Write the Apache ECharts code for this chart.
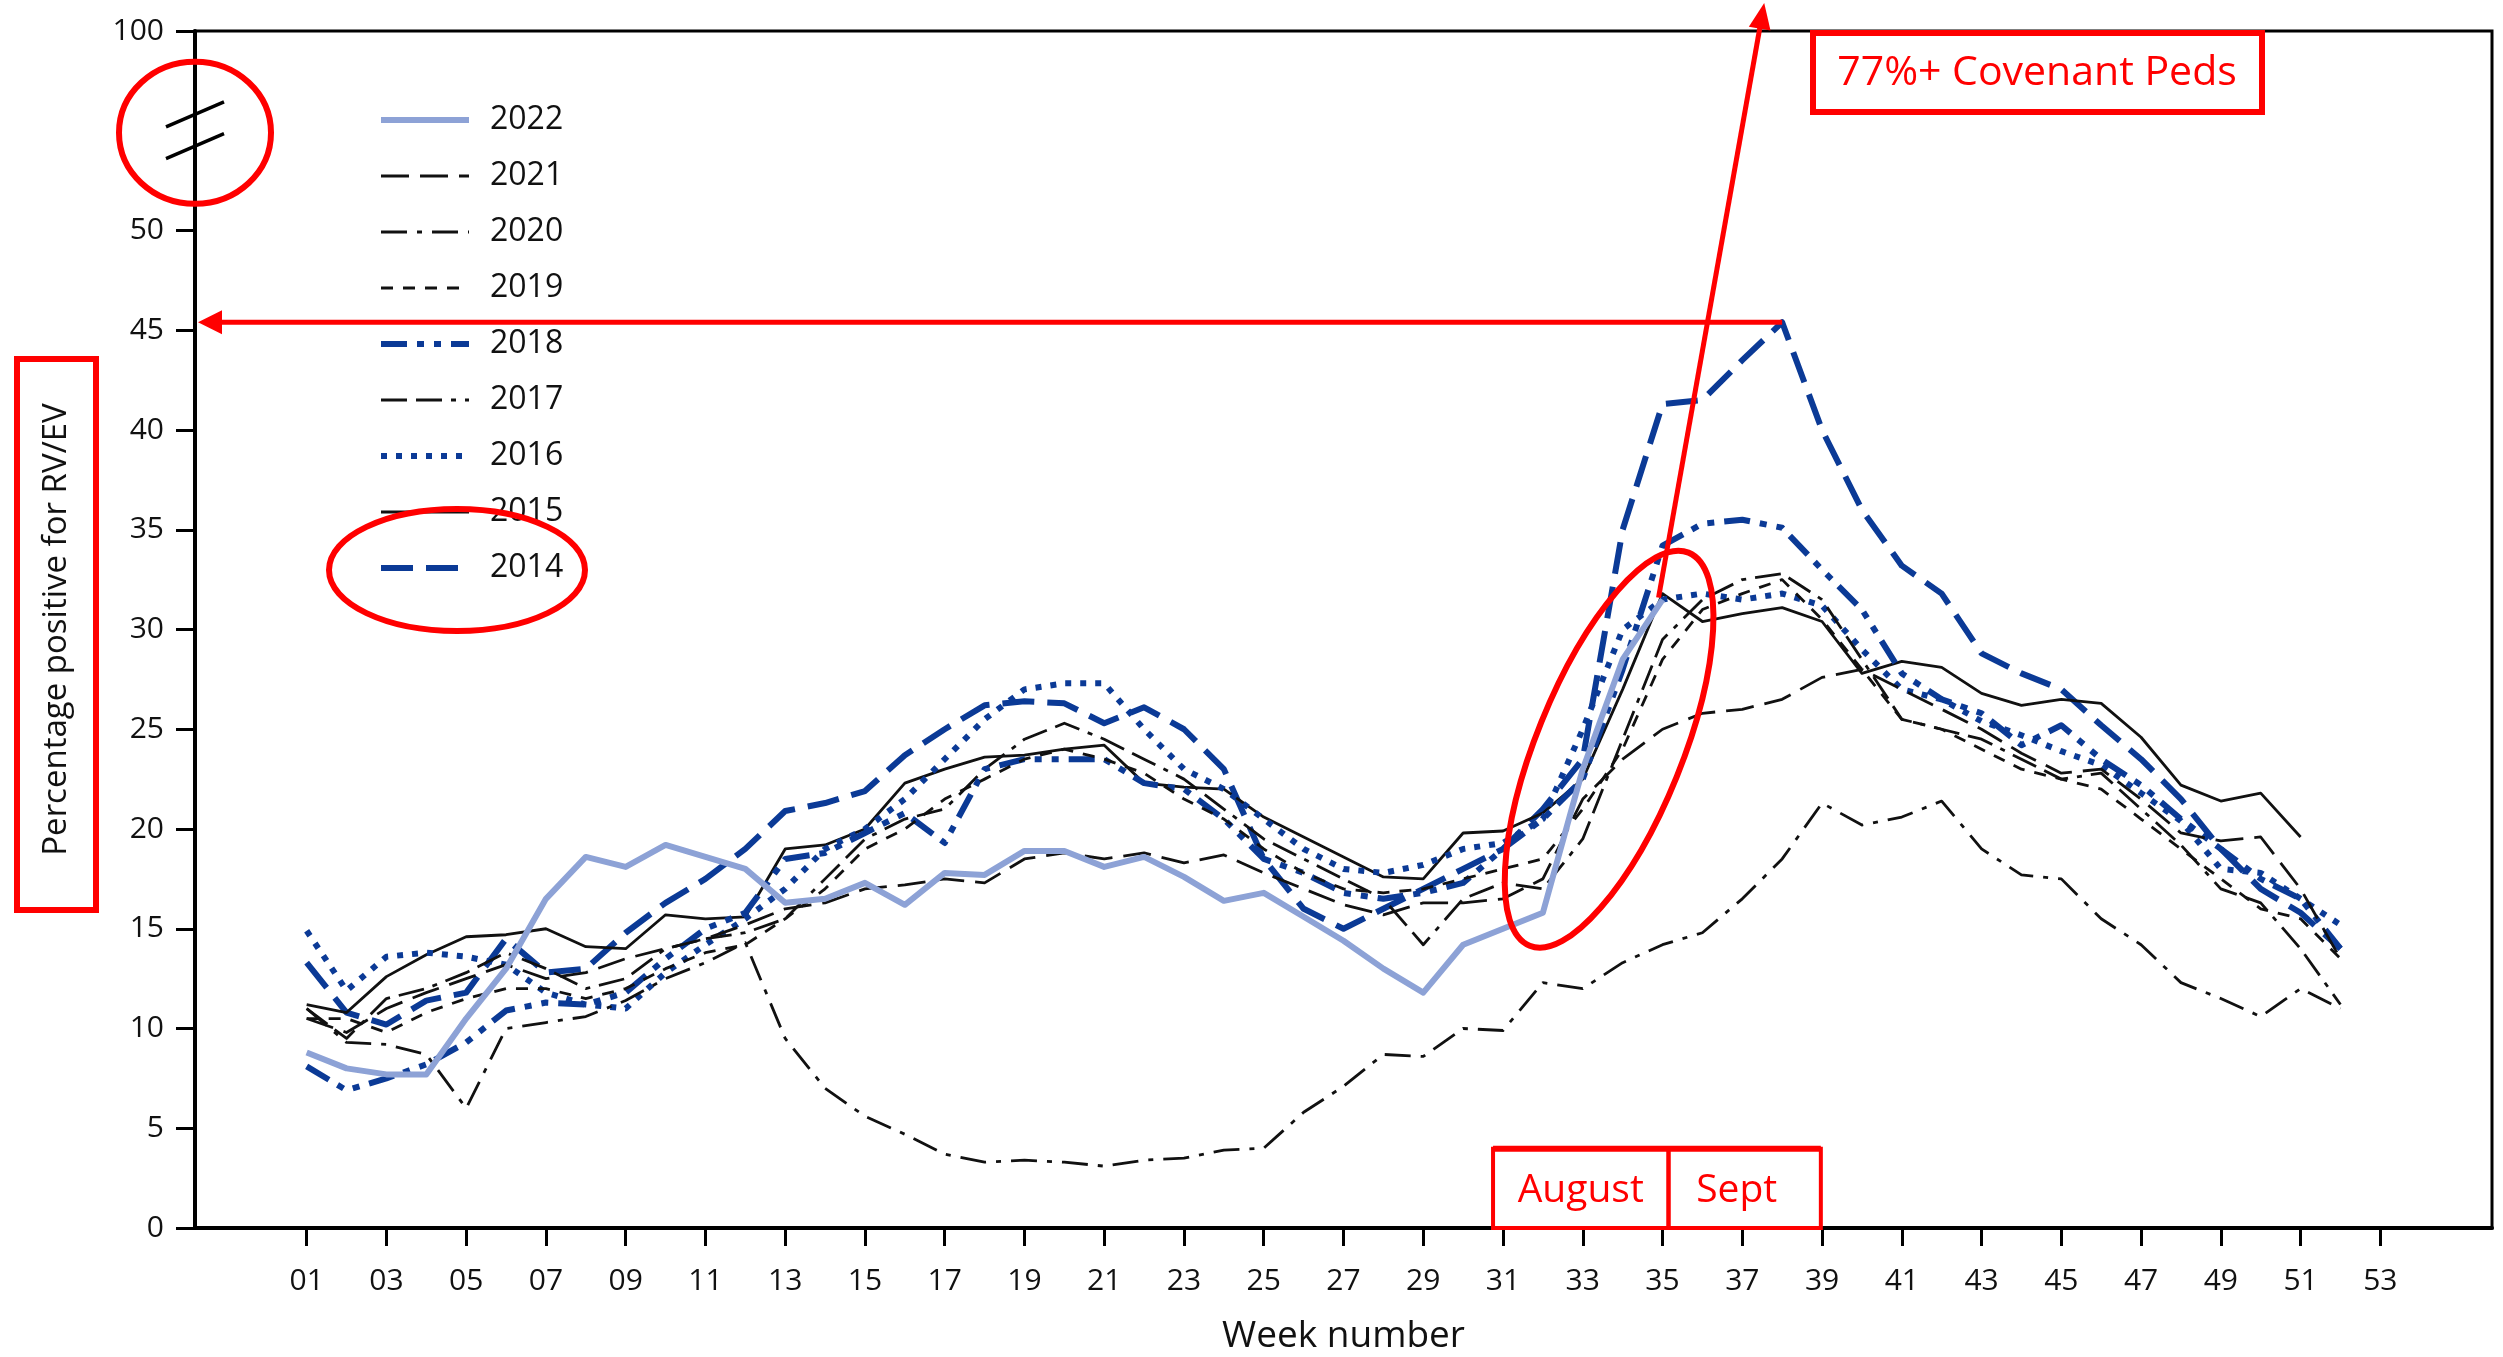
<!DOCTYPE html>
<html><head><meta charset="utf-8">
<script src="https://cdn.jsdelivr.net/npm/echarts@6/dist/echarts.min.js"></script>
<style>html,body{margin:0;padding:0;background:#fff}#c{width:2503px;height:1357px}</style>
</head><body><div id="c"></div>
<script>
const weeks = [1,2,3,4,5,6,7,8,9,10,11,12,13,14,15,16,17,18,19,20,21,22,23,24,25,26,27,28,29,30,31,32,33,34,35,36,37,38,39,40,41,42,43,44,45,46,47,48,49,50,51,52];
const xTickWeeks = [1,3,5,7,9,11,13,15,17,19,21,23,25,27,29,31,33,35,37,39,41,43,45,47,49,51,53];
const yTickValues = [0,5,10,15,20,25,30,35,40,45,50,60];
const yTickLabels = ['0','5','10','15','20','25','30','35','40','45','50','100'];
const legendNames = ['2022','2021','2020','2019','2018','2017','2016','2015','2014'];

const v2014 = [13.3,10.8,10.2,11.4,11.8,14.5,12.8,13.0,14.8,16.3,17.5,19.0,20.9,21.3,21.9,23.7,25.0,26.2,26.4,26.3,25.3,26.1,25.0,23.0,18.5,16.0,15.0,16.0,17.0,18.0,19.0,21.0,23.5,35.0,41.3,41.5,43.5,45.4,40.0,36.0,33.2,31.8,28.8,27.8,27.0,25.2,23.5,21.5,19.0,17.0,15.8,14.0];
const v2015 = [11.2,10.8,12.6,13.7,14.6,14.7,15.0,14.1,14.0,15.7,15.5,15.6,19.0,19.2,20.0,22.3,23.0,23.6,23.7,24.0,24.2,22.3,22.1,22.0,20.6,19.6,18.6,17.6,17.5,19.8,19.9,20.8,22.5,27.0,31.8,30.4,30.8,31.1,30.4,27.8,28.4,28.1,26.8,26.2,26.5,26.3,24.6,22.2,21.4,21.8,19.6];
const v2016 = [14.9,11.9,13.6,13.8,13.6,13.2,11.8,11.2,11.0,12.8,14.2,15.5,17.0,19.0,20.0,21.5,23.5,25.5,27.0,27.3,27.3,25.0,23.0,22.0,20.5,19.0,18.0,17.8,18.2,19.0,19.3,20.5,25.0,30.0,31.5,31.8,31.5,31.8,31.2,29.0,27.0,26.5,25.4,24.7,23.9,23.2,21.8,20.4,18.0,17.8,16.5,15.2];
const v2017 = [11.0,9.5,11.5,12.0,12.8,13.8,13.0,12.0,12.5,14.0,14.5,14.8,15.5,17.5,19.5,20.5,21.0,23.0,24.5,25.3,24.5,23.5,22.5,21.0,19.5,18.5,17.5,16.5,14.2,16.5,17.3,17.0,19.5,24.5,29.5,31.5,32.5,32.8,31.5,28.5,25.5,25.0,24.5,23.5,22.5,22.8,21.0,19.2,17.0,16.3,14.0,11.2];
const v2018 = [8.1,6.9,7.5,8.2,9.3,10.9,11.3,11.2,11.8,13.5,15.0,15.8,18.5,18.8,19.8,20.8,19.3,23.0,23.5,23.5,23.5,22.3,22.0,20.5,18.5,17.8,16.8,16.5,16.8,17.3,19.0,20.5,22.5,28.0,34.2,35.3,35.5,35.1,33.0,31.0,27.8,26.5,25.8,24.2,25.2,23.5,22.2,20.5,19.0,17.5,16.5,14.0];
const v2019 = [10.5,10.5,9.8,10.8,11.5,12.0,12.0,11.5,12.0,13.0,13.8,14.2,15.5,17.0,19.0,20.0,21.5,22.5,23.5,24.0,23.5,22.8,21.5,20.5,19.0,17.8,17.0,16.8,17.0,17.5,18.0,18.5,21.0,24.0,28.5,31.0,31.8,32.5,30.5,28.0,25.5,25.0,24.0,23.0,22.5,22.0,20.5,19.0,17.5,16.0,15.5,13.5];
const v2020 = [11.0,9.3,9.2,8.7,6.0,10.0,10.3,10.6,11.4,12.5,13.3,14.3,9.5,7.0,5.6,4.7,3.7,3.3,3.4,3.3,3.1,3.4,3.5,3.9,4.0,5.8,7.1,8.7,8.6,10.0,9.9,12.3,12.0,13.3,14.2,14.8,16.5,18.5,21.3,20.2,20.6,21.4,19.0,17.7,17.5,15.5,14.2,12.3,11.5,10.6,12.0,11.0];
const v2021 = [10.5,9.8,11.0,11.8,12.5,13.2,12.5,12.8,13.5,14.0,14.5,15.2,16.0,16.3,17.0,17.2,17.5,17.3,18.5,18.8,18.5,18.8,18.3,18.7,17.8,17.0,16.2,15.7,16.3,16.3,16.5,17.5,21.5,23.5,25.0,25.8,26.0,26.5,27.6,28.0,27.0,26.0,25.0,23.8,22.8,23.0,21.5,19.8,19.4,19.6,17.0,13.5];
const v2022 = [8.8,8.0,7.7,7.7,10.5,13.0,16.5,18.6,18.1,19.2,18.6,18.0,16.3,16.5,17.3,16.2,17.8,17.7,18.9,18.9,18.1,18.6,17.6,16.4,16.8,15.6,14.4,13.0,11.8,14.2,15.0,15.8,23.0,28.5,31.5];

const FONT = '"Open Sans", "DejaVu Sans", sans-serif';
const BLUE = '#0B3A96';
const LIGHT = '#8DA2D6';
const INK = '#111111';
const RED = '#FF0000';

function mk(name, vals, color, width, dash, z) {
  return {
    name: name, type: 'line', symbol: 'none', smooth: false, z: z,
    data: vals.map(function (v, i) { return [weeks[i], v]; }),
    lineStyle: { color: color, width: width, type: dash, cap: 'butt', join: 'round' },
    itemStyle: { color: color },
    emphasis: { disabled: true }, animation: false
  };
}

const series = [
  mk('2014', v2014, BLUE, 6, [32, 13], 2),
  mk('2015', v2015, INK, 2.8, 'solid', 2),
  mk('2016', v2016, BLUE, 6, [6, 9], 2),
  mk('2017', v2017, INK, 2.8, [26, 9, 26, 9, 5, 9], 2),
  mk('2018', v2018, BLUE, 6, [26, 10, 7, 10, 7, 10], 2),
  mk('2019', v2019, INK, 2.8, [12, 10], 2),
  mk('2020', v2020, INK, 2.8, [26, 10, 5, 10], 2),
  mk('2021', v2021, INK, 2.8, [28, 11], 2),
  mk('2022', v2022, LIGHT, 6, 'solid', 3)
];

const chart = echarts.init(document.getElementById('c'), null, { renderer: 'canvas' });
chart.setOption({
  animation: false,
  backgroundColor: '#ffffff',
  grid: { left: 195, right: 11, top: 31, bottom: 129, containLabel: false, outerBoundsMode: 'none',
    show: true, borderColor: '#000', borderWidth: 3, backgroundColor: 'transparent' },
  legend: {
    orient: 'vertical', left: 373, top: 97, itemWidth: 88, itemHeight: 20, itemGap: 20,
    selectedMode: false, data: legendNames,
    lineStyle: { width: 'inherit', type: 'inherit' },
    itemStyle: { opacity: 0, borderWidth: 0 },
    textStyle: { fontFamily: FONT, fontSize: 32, color: INK, lineHeight: 36, padding: [0, 0, 0, 16] }
  },
  xAxis: {
    type: 'value', min: -1.8, max: 55.8,
    name: 'Week number', nameLocation: 'middle', nameGap: 90,
    nameTextStyle: { fontFamily: FONT, fontSize: 37, color: INK },
    axisLine: { show: true, onZero: false, lineStyle: { color: '#000', width: 4 } },
    axisTick: { show: true, customValues: xTickWeeks, length: 18, lineStyle: { color: '#000', width: 3 } },
    axisLabel: { customValues: xTickWeeks, margin: 38, fontFamily: FONT, fontSize: 30, color: INK,
      formatter: function (v) { return (v < 10 ? '0' : '') + v; } },
    splitLine: { show: false }
  },
  yAxis: {
    type: 'value', min: 0, max: 60,
    name: 'Percentage positive for RV/EV', nameLocation: 'middle', nameGap: 122,
    nameTextStyle: { fontFamily: FONT, fontSize: 33, color: INK },
    axisLine: { show: true, onZero: false, lineStyle: { color: '#000', width: 4 } },
    axisTick: { show: true, customValues: yTickValues, length: 19, lineStyle: { color: '#000', width: 3 } },
    axisLabel: { customValues: yTickValues, margin: 31, fontFamily: FONT, fontSize: 30, color: INK,
      formatter: function (v) { const i = yTickValues.indexOf(v); return i >= 0 ? yTickLabels[i] : ''; } },
    splitLine: { show: false }
  },
  series: series
});

function px(x, y) { return chart.convertToPixel({ gridIndex: 0 }, [x, y]); }
function arrow(x1, y1, x2, y2, w, hl, hw) {
  const dx = x2 - x1, dy = y2 - y1, L = Math.sqrt(dx * dx + dy * dy);
  const ux = dx / L, uy = dy / L, bx = x2 - ux * hl, by = y2 - uy * hl;
  return [
    { type: 'line', z: 100, shape: { x1: x1, y1: y1, x2: bx + ux * 2, y2: by + uy * 2 }, style: { stroke: RED, lineWidth: w } },
    { type: 'polygon', z: 100, shape: { points: [[x2, y2], [bx - uy * hw, by + ux * hw], [bx + uy * hw, by - ux * hw]] }, style: { fill: RED } }
  ];
}
function txt(s, x, y, size) {
  return { type: 'text', z: 101, style: { text: s, x: x, y: y, fill: RED, font: size + 'px ' + FONT,
    textAlign: 'center', textVerticalAlign: 'middle', align: 'center', verticalAlign: 'middle' } };
}
function box(x, y, w, h, lw) {
  return { type: 'rect', z: 100, shape: { x: x, y: y, width: w, height: h }, style: { fill: null, stroke: RED, lineWidth: lw } };
}

const g = [];
const br1 = px(-1.8, 55.8), br2 = px(-1.8, 54.2);
[br1, br2].forEach(function (p) {
  g.push({ type: 'line', z: 50, shape: { x1: p[0] - 29, y1: p[1] + 12, x2: p[0] + 29, y2: p[1] - 13 }, style: { stroke: '#000', lineWidth: 3.5 } });
});
const bc = px(-1.8, 54.9);
g.push({ type: 'ellipse', z: 100, shape: { cx: bc[0], cy: bc[1], rx: 76, ry: 71 }, style: { fill: null, stroke: RED, lineWidth: 6 } });
g.push({ type: 'ellipse', z: 100, shape: { cx: 457, cy: 570, rx: 128, ry: 61 }, style: { fill: null, stroke: RED, lineWidth: 6 } });
g.push(box(17, 359, 79, 551, 6));
const hA = px(38.0, 45.4), hB = px(-1.8, 45.4);
arrow(hA[0], hA[1], hB[0] + 3, hB[1], 5, 24, 12).forEach(function (e) { g.push(e); });
const dA = px(34.9, 31.6), dB = px(37.55, 61.4);
arrow(dA[0], dA[1], dB[0], dB[1], 5, 26, 11).forEach(function (e) { g.push(e); });
g.push(box(1813, 33, 449, 79, 6));
g.push(txt('77%+ Covenant Peds', 2037, 73, 41));
const ec = px(33.66, 24.0);
g.push({ type: 'ellipse', z: 100, x: ec[0], y: ec[1], rotation: -0.384, shape: { cx: 0, cy: 0, rx: 73, ry: 212 }, style: { fill: null, stroke: RED, lineWidth: 6 } });
const a0 = px(30.75, 3.97), a1 = px(35.15, 0), a2 = px(38.97, 0);
g.push(box(a0[0], a0[1], a1[0] - a0[0], a1[1] - a0[1], 4));
g.push(box(a1[0], a0[1], a2[0] - a1[0], a1[1] - a0[1], 4));
g.push({ type: 'line', z: 100, shape: { x1: a0[0], y1: a0[1], x2: a2[0], y2: a0[1] }, style: { stroke: RED, lineWidth: 6 } });
g.push(txt('August', (a0[0] + a1[0]) / 2, (a0[1] + a1[1]) / 2 + 2, 39));
g.push(txt('Sept', (a1[0] + a2[0]) / 2 - 8, (a0[1] + a1[1]) / 2 + 2, 39));

chart.setOption({ graphic: g });
</script>
</body></html>
